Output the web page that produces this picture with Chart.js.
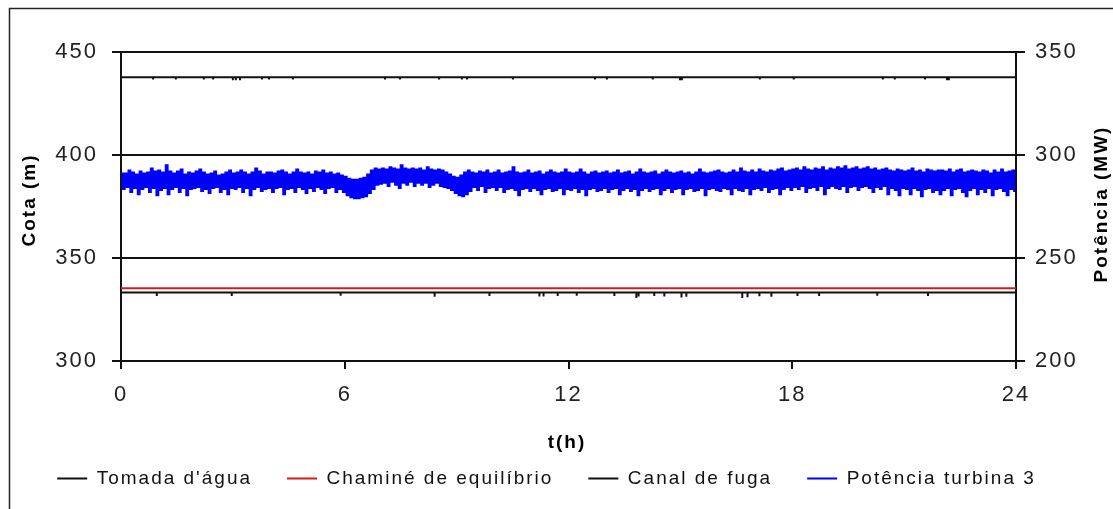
<!DOCTYPE html>
<html>
<head>
<meta charset="utf-8">
<script src="https://cdn.jsdelivr.net/npm/chart.js@4"></script>
<style>
    html, body { margin: 0; padding: 0; background: #fff; }
    #wrap { width: 1113px; height: 509px; position: relative; }
</style>
</head>
<body>
<div id="wrap"><canvas id="chart"></canvas></div>
<script>
// levels in m (left axis)
const tomadaLevel = 437.8;
const chamineLevel = 335.3;
const canalLevel = 333.2;

// short downward blips on the constant lines: time (h) and value (m)
const tomadaDipT = [0.86, 1.47, 2.22, 2.47, 3.0, 3.08, 3.19, 3.78, 3.97, 4.61, 7.08, 7.48, 8.53, 9.14, 9.28, 10.51,
    12.71, 13.03, 14.26, 14.99, 15.04, 17.13, 18.04, 20.43, 20.75, 21.56, 22.15, 22.2];
const tomadaDipY = [436.6, 436.6, 436.6, 436.6, 436.3, 436.3, 436.3, 436.6, 436.6, 436.6, 436.6, 436.6, 436.6, 436.6, 436.6, 436.6,
    436.6, 436.6, 436.6, 436.3, 436.3, 436.6, 436.6, 436.6, 436.6, 436.6, 436.3, 436.3];

const canalDipT = [0.96, 2.97, 5.89, 8.41, 9.88, 11.22, 11.33, 11.71, 12.22, 13.23, 13.82, 13.88, 14.30, 14.57, 15.03, 15.16,
    16.66, 16.80, 17.12, 17.44, 18.14, 18.72, 20.28, 21.64];
const canalDipY = [331.6, 331.6, 331.7, 331.2, 331.5, 331.3, 331.3, 331.6, 331.7, 331.6, 330.6, 331.3, 331.5, 331.3, 330.8, 331.2,
    330.6, 331.0, 331.4, 331.2, 331.6, 331.6, 331.7, 331.5];

// turbine 3 power (MW, right axis): upper and lower envelope every 0.1 h
const potHigh = [
    291, 291, 292.5, 291.5, 290.5, 292, 291, 291.5, 293.5, 292,
    292.5, 291.5, 295, 292, 291, 292, 293, 290.5, 291.5, 291,
    292, 293, 291.5, 290.5, 291, 292, 290, 290.5, 291.5, 292.5,
    291, 291.5, 292.5, 291.5, 290.5, 291.5, 293.5, 292, 290.5, 291.5,
    291.5, 291, 292, 292.5, 291.5, 290.5, 291.5, 293, 291.5, 291,
    291.5, 290.5, 292, 291.5, 292.5, 291, 291.5, 290.5, 291, 290,
    289.5, 288.5, 288, 288, 288.5, 289, 290.5, 292.5, 293.5, 293,
    293.5, 293, 294, 293.5, 293, 295, 293.5, 293, 293.5, 293,
    293.5, 292.5, 294, 293, 292.5, 293, 292.5, 291.5, 290.5, 289.5,
    289, 290, 291.5, 292.5, 291.5, 291, 292, 291.5, 292.5, 291,
    291.5, 292.5, 291, 291.5, 292, 294, 291.5, 291, 291.5, 292.5,
    291, 291.5, 292, 290.5, 291.5, 292.5, 291.5, 291, 291.5, 293,
    291.5, 291, 291.5, 293, 291.5, 290.5, 291.5, 292, 291, 291.5,
    292, 291, 291.5, 292.5, 291, 291.5, 292, 290.5, 291.5, 293,
    291.5, 291, 291.5, 292, 290.5, 291.5, 292.5, 291.5, 291, 291.5,
    292, 291, 291.5, 290.5, 291.5, 293, 291.5, 291, 291.5, 292,
    292.5, 291.5, 291, 291.5, 292.5, 291.5, 293.5, 292, 291.5, 292.5,
    291.5, 293, 292, 291.5, 292.5, 292, 293, 293.5, 292, 292.5,
    293, 293.5, 292.5, 294, 293, 292.5, 293.5, 293, 294, 292.5,
    293.5, 293, 294, 293.5, 294.5, 293, 293.5, 294, 293, 293.5,
    294, 293, 293.5, 292.5, 293, 293.5, 292.5, 292, 293, 292.5,
    292, 292.5, 293.5, 292, 292.5, 291.5, 293, 292.5, 292, 292.5,
    292.5, 292, 293, 291.5, 292.5, 293, 291.5, 292, 292.5, 292,
    291.5, 292.5, 292, 291, 292.5, 291.5, 293, 291.5, 292, 292.5
];
const potLow = [
    283.5, 284.5, 282, 284, 281, 283.5, 284.5, 282, 284, 280.5,
    283, 284, 281, 283.5, 284.5, 282, 284, 280.5, 283.5, 284,
    284.5, 282.5, 283.5, 281.5, 284, 284.5, 282, 283.5, 281, 284,
    283.5, 284.5, 282, 284, 280.5, 283.5, 284.5, 282.5, 283.5, 284,
    282, 284, 284.5, 281, 283.5, 284, 282, 284.5, 283.5, 281.5,
    284, 282.5, 284.5, 283.5, 281.5, 284, 284.5, 282, 283.5, 282,
    280.5, 279.5, 279, 279, 279.5, 280, 281.5, 283.5, 285.5, 286,
    286.5, 285, 287, 285.5, 284, 286.5, 285.5, 287, 285, 286.5,
    285.5, 286.5, 284.5, 285.5, 286.5, 285, 284.5, 284, 283, 281.5,
    280.5, 280, 281, 282.5, 284.5, 283, 285, 282, 284, 284.5,
    283, 284.5, 282, 283.5, 284, 283, 280.5, 283.5, 284, 282.5,
    284, 283, 281, 283.5, 284, 282.5, 283, 284, 281, 283.5,
    283, 284, 282, 283.5, 280.5, 283.5, 284, 282.5, 283, 284,
    282, 283.5, 284, 281, 283, 284, 282.5, 283.5, 280.5, 283,
    284, 282.5, 283.5, 284, 281, 283, 284, 282, 283.5, 284,
    281, 283.5, 284, 282.5, 283, 284, 280.5, 283.5, 284, 283,
    282.5, 284, 283.5, 281, 284, 283, 282.5, 284, 281, 283.5,
    284, 283, 284.5, 282, 283.5, 284, 281, 283.5, 284.5, 283,
    284.5, 283.5, 285, 282, 284, 284.5, 283, 285, 281, 284,
    285, 284, 283.5, 285, 282, 284.5, 285, 283, 284.5, 285,
    284, 282, 284.5, 283.5, 285, 281, 284, 283, 280.5, 284,
    283.5, 281, 284, 283, 280, 283.5, 284, 282, 283, 281,
    283, 284, 280.5, 283.5, 284, 282, 280, 283, 284, 281,
    283.5, 282, 284, 280.5, 283.5, 284, 282.5, 280.5, 283.5, 282
];

const xTicks = [0, 6, 12, 18, 24];
const seriesNames = ["Tomada d'água", "Chaminé de equilíbrio", "Canal de fuga", "Potência turbina 3"];

function levelWithDips(level, dipT, dipY) {
    let pts = [{x: 0, y: level}];
    dipT.forEach(function (t, i) {
        pts.push({x: t, y: level}, {x: t, y: dipY[i]}, {x: t, y: level});
    });
    pts.push({x: 24, y: level});
    return pts;
}

let potData = [];
potHigh.forEach(function (v, i) {
    potData.push({x: i * 0.1, y: v});
    potData.push({x: i * 0.1 + 0.05, y: potLow[i]});
});

const FONT = "'Liberation Sans', Arial, sans-serif";
const SPACING = "2px";

const spacingPlugin = {
    id: "spacing",
    beforeUpdate: function (chart) { chart.ctx.letterSpacing = SPACING; },
    beforeLayout: function (chart) { chart.ctx.letterSpacing = SPACING; },
    beforeDraw: function (chart) { chart.ctx.letterSpacing = SPACING; }
};

const decorPlugin = {
    id: "decor",
    afterDraw: function (chart) {
        let ctx = chart.ctx;
        ctx.save();
        ctx.letterSpacing = "2px";
        ctx.fillStyle = "#000";
        ctx.font = "bold 19px " + FONT;
        ctx.textAlign = "center";
        ctx.textBaseline = "middle";

        ctx.save();
        ctx.translate(30, 200);
        ctx.rotate(-Math.PI / 2);
        ctx.fillText("Cota (m)", 0, 0);
        ctx.restore();

        ctx.save();
        ctx.translate(1102, 204);
        ctx.rotate(-Math.PI / 2);
        ctx.fillText("Potência (MW)", 0, 0);
        ctx.restore();

        ctx.fillText("t(h)", 567, 443);

        // outer frame
        ctx.strokeStyle = "#222";
        ctx.lineWidth = 1.5;
        ctx.beginPath();
        ctx.moveTo(9.5, 509);
        ctx.lineTo(9.5, 8.5);
        ctx.lineTo(1113, 8.5);
        ctx.stroke();
        ctx.restore();
    }
};

new Chart(document.getElementById("chart").getContext("2d"), {
    type: "line",
    data: {
        datasets: [{
            label: seriesNames[0],
            data: levelWithDips(tomadaLevel, tomadaDipT, tomadaDipY),
            borderColor: "#111",
            backgroundColor: "#111",
            borderWidth: 2,
            yAxisID: "y"
        }, {
            label: seriesNames[1],
            data: [{x: 0, y: chamineLevel}, {x: 24, y: chamineLevel}],
            borderColor: "#d41a1a",
            backgroundColor: "#d41a1a",
            borderWidth: 2,
            yAxisID: "y"
        }, {
            label: seriesNames[2],
            data: levelWithDips(canalLevel, canalDipT, canalDipY),
            borderColor: "#111",
            backgroundColor: "#111",
            borderWidth: 2,
            yAxisID: "y"
        }, {
            label: seriesNames[3],
            data: potData,
            borderColor: "#0000ff",
            backgroundColor: "#0000ff",
            borderWidth: 2,
            stepped: true,
            yAxisID: "y2"
        }]
    },
    options: {
        responsive: true,
        maintainAspectRatio: false,
        animation: false,
        parsing: false,
        elements: {
            point: {radius: 0, hoverRadius: 0},
            line: {tension: 0}
        },
        layout: {
            padding: {top: 52, left: 0, right: 20, bottom: 11}
        },
        scales: {
            x: {
                type: "linear",
                min: 0,
                max: 24,
                afterBuildTicks: function (scale) {
                    scale.ticks = xTicks.map(function (v) { return {value: v}; });
                },
                afterFit: function (scale) { scale.height = 73; },
                grid: {drawOnChartArea: false, drawTicks: true, tickLength: 8, color: "#111", lineWidth: 2},
                border: {display: true, color: "#111", width: 2},
                ticks: {color: "#222", font: {family: FONT, size: 22}, padding: 13, maxRotation: 0}
            },
            y: {
                position: "left",
                min: 300,
                max: 450,
                afterFit: function (scale) { scale.width = 121; },
                grid: {color: "#111", lineWidth: 2, tickLength: 9},
                border: {display: true, color: "#111", width: 2},
                ticks: {stepSize: 50, color: "#222", font: {family: FONT, size: 22}, padding: 14}
            },
            y2: {
                position: "right",
                min: 200,
                max: 350,
                afterFit: function (scale) { scale.width = 77; },
                grid: {drawOnChartArea: false, color: "#111", lineWidth: 2, tickLength: 9},
                border: {display: true, color: "#111", width: 2},
                ticks: {stepSize: 50, color: "#222", font: {family: FONT, size: 22}, padding: 10}
            }
        },
        plugins: {
            tooltip: {enabled: false},
            legend: {
                position: "bottom",
                labels: {
                    color: "#111",
                    font: {family: FONT, size: 19},
                    boxWidth: 30,
                    boxHeight: 2,
                    padding: 35,
                    generateLabels: function (chart) {
                        let items = Chart.defaults.plugins.legend.labels.generateLabels(chart);
                        items.forEach(function (item) {
                            item.lineWidth = 0;
                            item.fillStyle = item.strokeStyle;
                        });
                        return items;
                    }
                }
            }
        }
    },
    plugins: [spacingPlugin, decorPlugin]
});
</script>
</body>
</html>
